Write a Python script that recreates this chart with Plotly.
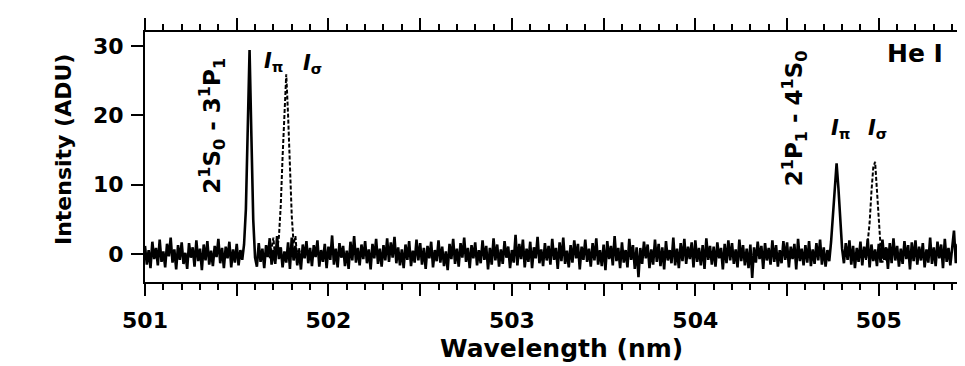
import numpy as np
import plotly.graph_objects as go

# ---- data ----
wavelength_start = 501.0   # nm, first sample
wavelength_step = 0.01     # nm, sample spacing

# pi-polarised spectrum (solid), one value per 0.01 nm from 501.00 nm
intensity_pi = [
    1.2, -1.5, 0.6, -2.0, 1.8, -0.7, 0.9, -1.6, 2.1, -1.1,
    0.4, -1.9, 1.5, -0.3, 2.4, -1.2, 0.7, -2.2, 1.3, -0.8,
    1.7, -1.4, 0.2, -2.1, 1.6, -0.5, 1.0, -1.8, 2.0, -1.0,
    0.8, -2.3, 1.4, -0.9, 1.9, -1.5, 0.5, -1.7, 1.2, -0.4,
    2.2, -1.3, 0.9, -2.0, 1.1, -0.6, 1.8, -1.9, 0.7, -1.2,
    1.5, -1.6, 0.6, -0.8, 1.4, 6.5, 18.0, 29.4, 17.0, 5.0,
    -0.5, -1.8, 1.6, -1.1, 0.8, -2.0, 1.3, -0.4, 2.3, -1.5,
    0.6, -1.4, 2.6, -0.7, 1.0, -1.9, 0.4, -1.2, 1.7, -2.1,
    2.4, -0.9, 1.2, -1.6, 0.5, -2.2, 1.4, -0.6, 1.9, -1.3,
    0.9, -1.7, 1.3, -0.4, 2.0, -1.8, 0.6, -1.1, 1.5, -2.0,
    1.1, -0.8, 2.7, -1.5, 0.8, -1.9, 1.6, -0.5, 1.2, -1.7,
    0.5, -2.1, 1.8, -0.9, 2.6, -1.2, 0.9, -1.6, 1.4, -0.7,
    1.9, -1.3, 0.7, -2.2, 1.5, -0.6, 2.2, -1.4, 0.8, -1.8,
    1.3, -0.9, 2.3, -1.1, 1.7, -0.5, 2.5, -1.3, 1.0, -1.6,
    0.7, -2.0, 1.4, -0.8, 1.9, -1.7, 0.5, -1.2, 2.1, -0.9,
    1.6, -1.5, 0.9, -2.1, 1.2, -0.6, 1.8, -1.9, 0.6, -1.0,
    2.0, -1.2, 1.1, -1.7, 0.4, -2.3, 1.5, -0.7, 2.2, -1.4,
    0.8, -1.8, 1.6, -0.5, 2.4, -1.1, 0.9, -2.0, 1.3, -0.6,
    1.7, -1.6, 0.6, -1.3, 2.0, -0.8, 1.2, -2.2, 0.9, -1.5,
    2.3, -0.9, 1.4, -1.8, 0.7, -1.4, 1.9, -0.5, 1.1, -2.0,
    0.6, -1.2, 2.8, -1.6, 1.5, -0.7, 2.1, -1.9, 0.8, -1.1,
    1.8, -2.0, 1.0, -0.6, 2.5, -1.3, 0.7, -1.7, 1.6, -0.9,
    1.2, -1.5, 2.2, -0.8, 0.9, -2.1, 1.7, -1.0, 2.4, -1.4,
    0.5, -1.9, 1.3, -1.2, 2.0, -0.6, 1.5, -2.2, 1.1, -0.8,
    2.1, -1.1, 0.8, -1.8, 1.6, -0.9, 2.3, -1.5, 0.6, -1.7,
    1.4, -2.3, 1.9, -0.7, 1.2, -1.6, 2.6, -1.0, 0.9, -2.0,
    1.7, -1.2, 0.6, -1.9, 2.2, -0.8, 1.3, -2.1, 1.0, -3.3,
    0.9, -1.4, 1.8, -0.6, 1.4, -2.0, 0.7, -1.5, 2.1, -1.1,
    1.5, -1.7, 1.0, -2.2, 1.9, -0.9, 0.6, -1.3, 2.4, -1.6,
    0.8, -2.0, 1.6, -1.0, 2.2, -1.4, 1.1, -0.7, 1.7, -1.9,
    2.0, -1.1, 0.9, -1.6, 1.3, -2.1, 2.3, -0.8, 1.2, -1.5,
    1.1, -1.8, 1.7, -0.6, 0.9, -2.2, 1.5, -1.3, 2.0, -0.9,
    1.6, -1.4, 0.7, -1.9, 2.1, -1.0, 1.3, -1.6, 0.8, -2.0,
    1.4, -3.4, 1.0, -1.2, 1.8, -0.7, 1.2, -2.1, 1.6, -0.9,
    0.9, -1.5, 2.0, -1.1, 1.3, -1.8, 0.6, -1.3, 1.9, -0.8,
    1.7, -1.9, 1.1, -0.7, 1.5, -2.2, 2.2, -1.0, 0.8, -1.6,
    1.3, -1.2, 1.9, -1.7, 0.7, -1.4, 1.6, -0.9, 2.1, -1.5,
    1.0, -1.8, 0.6, -1.0, 1.8, 5.5, 10.5, 13.1, 9.5, 4.5,
    0.8, -1.3, 1.6, -0.8, 2.0, -1.5, 1.2, -2.0, 0.9, -1.1,
    1.8, -1.6, 1.1, -0.6, 2.2, -1.9, 1.4, -1.0, 0.7, -1.7,
    1.5, -1.2, 2.1, -0.8, 1.0, -2.1, 1.6, -1.3, 2.3, -0.9,
    1.2, -1.8, 0.8, -1.4, 1.9, -0.7, 1.3, -2.2, 1.7, -1.0,
    2.0, -1.5, 1.1, -0.9, 1.6, -1.9, 0.7, -1.2, 2.4, -1.4,
    1.0, -1.7, 1.8, -0.6, 1.4, -2.0, 2.2, -1.1, 0.9, -1.6,
    1.3, 3.4, -1.3, 1.5, -0.8, 2.1, -1.8, 1.2,
]

# sigma-polarised lines (dashed), only around the two lines
sigma_wavelength = [
    501.68, 501.69, 501.70, 501.71, 501.72, 501.73, 501.74, 501.75, 501.76,
    501.77, 501.78, 501.79, 501.80, 501.81, 501.82, 501.83, 501.84, 501.85,
    None,
    504.89, 504.90, 504.91, 504.92, 504.93, 504.94, 504.95, 504.96, 504.97,
    504.98, 504.99, 505.00, 505.01, 505.02, 505.03, 505.04, 505.05,
]
sigma_intensity = [
    -0.6, 1.1, 2.4, -0.9, 0.5, 2.5, 7.0, 14.0, 21.0,
    25.9, 20.0, 12.5, 5.5, 1.5, 2.6, -0.8, 0.9, -1.2,
    None,
    -0.7, 1.0, -1.1, 0.6, -0.8, 1.5, 4.5, 9.0, 12.5,
    13.3, 9.0, 4.0, 1.0, -1.2, 0.8, -0.9, 1.1,
]

x_tick_values = [501, 501.5, 502, 502.5, 503, 503.5, 504, 504.5, 505]
x_tick_labels = ["501", "", "502", "", "503", "", "504", "", "505"]
y_tick_values = [0, 10, 20, 30]
y_tick_labels = ["0", "10", "20", "30"]

wavelength = np.round(wavelength_start + wavelength_step * np.arange(len(intensity_pi)), 2)

FONT = "DejaVu Sans"

fig = go.Figure()
fig.add_trace(go.Scatter(
    x=wavelength, y=intensity_pi, mode="lines",
    line=dict(color="black", width=2.6), showlegend=False, hoverinfo="skip",
))
fig.add_trace(go.Scatter(
    x=sigma_wavelength, y=sigma_intensity, mode="lines", connectgaps=False,
    line=dict(color="black", width=2.0, dash="4px,2px"), showlegend=False, hoverinfo="skip",
))

def ann(text, x, y, size, angle=0):
    fig.add_annotation(
        text=text, x=x, y=y, xref="paper", yref="paper",
        xanchor="center", yanchor="middle", showarrow=False, textangle=angle,
        font=dict(family=FONT, size=size, color="black", weight="bold"),
    )

ann("2<sup>1</sup>S<sub>0</sub> - 3<sup>1</sup>P<sub>1</sub>", 0.0817, 0.625, 23, -90)
ann("2<sup>1</sup>P<sub>1</sub> - 4<sup>1</sup>S<sub>0</sub>", 0.7915, 0.655, 23, -90)
ann("<i>I</i><sub>π</sub>", 0.1567, 0.88, 21)
ann("<i>I</i><sub>σ</sub>", 0.2037, 0.872, 21)
ann("<i>I</i><sub>π</sub>", 0.8476, 0.612, 21)
ann("<i>I</i><sub>σ</sub>", 0.8927, 0.612, 21)
ann("He I", 0.939, 0.912, 25)
ann("Intensity (ADU)", -0.1, 0.528, 22, -90)
ann("Wavelength (nm)", 0.5085, -0.264, 25)

# the page adds an 8 px body margin, so the figure is 8 px smaller and margins 8 px less
fig.update_layout(
    width=957, height=358, autosize=False,
    margin=dict(l=137, r=0, t=24, b=84),
    paper_bgcolor="white", plot_bgcolor="white",
    font=dict(family=FONT, color="black"),
)
fig.update_xaxes(
    range=[501.0, 505.47], showgrid=False, zeroline=False,
    showline=True, linecolor="black", linewidth=2, mirror="ticks",
    tickmode="array", tickvals=x_tick_values, ticktext=x_tick_labels,
    ticks="outside", ticklen=12, tickwidth=2, tickcolor="black",
    ticklabelstandoff=6,
    tickfont=dict(family=FONT, size=22, color="black", weight="bold"),
    minor=dict(tick0=501.0, dtick=0.1, ticks="outside", ticklen=6, tickwidth=1.5,
               tickcolor="black", showgrid=False),
)
fig.update_yaxes(
    range=[-4, 32], showgrid=False, zeroline=False,
    showline=True, linecolor="black", linewidth=2, mirror=False,
    tickmode="array", tickvals=y_tick_values, ticktext=y_tick_labels,
    ticks="outside", ticklen=12, tickwidth=2, tickcolor="black",
    ticklabelstandoff=3,
    tickfont=dict(family=FONT, size=22, color="black", weight="bold"),
)

fig.write_html("out.html")
